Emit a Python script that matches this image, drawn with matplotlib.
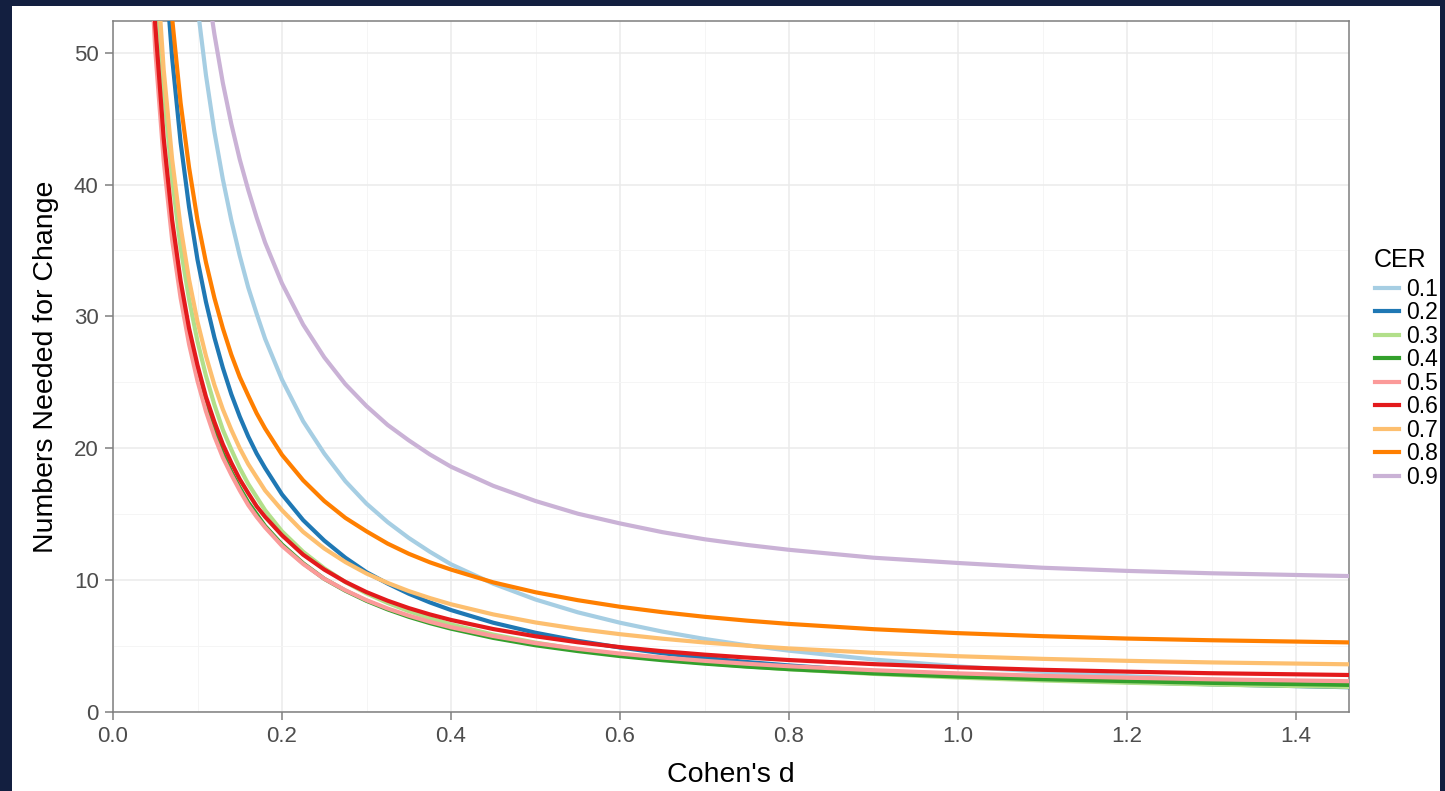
import matplotlib.pyplot as plt
from matplotlib.patches import Rectangle
from matplotlib.lines import Line2D
import numpy as np

plt.rcParams['font.family'] = ['Liberation Sans', 'DejaVu Sans']

# Cohen's d values where the curves were read
d = [0.04, 0.05, 0.06, 0.07, 0.08, 0.09, 0.10, 0.11, 0.12, 0.13, 0.14, 0.15, 0.16,
     0.17, 0.18, 0.20, 0.225, 0.25, 0.275, 0.30, 0.325, 0.35, 0.375, 0.40, 0.45,
     0.50, 0.55, 0.60, 0.65, 0.70, 0.75, 0.80, 0.90, 1.00, 1.10, 1.20, 1.30, 1.47]

# numbers needed for change, one list per CER
nnt_01 = [138.9, 110.4, 91.4, 77.9, 67.7, 59.8, 53.5, 48.3, 44.0, 40.4, 37.3, 34.6, 32.2,
          30.2, 28.3, 25.2, 22.05, 19.6, 17.5, 15.8, 14.4, 13.2, 12.15, 11.2, 9.73,
          8.53, 7.56, 6.77, 6.10, 5.54, 5.06, 4.65, 3.98, 3.46, 3.05, 2.72, 2.45, 2.11]
nnt_02 = [87.8, 70.0, 58.1, 49.6, 43.2, 38.3, 34.3, 31.1, 28.4, 26.1, 24.1, 22.4, 20.9,
          19.6, 18.5, 16.5, 14.55, 13.0, 11.7, 10.6, 9.74, 8.97, 8.31, 7.73, 6.77,
          6.01, 5.40, 4.89, 4.46, 4.10, 3.79, 3.53, 3.09, 2.76, 2.49, 2.27, 2.10, 1.87]
nnt_03 = [71.2, 56.8, 47.2, 40.4, 35.2, 31.3, 28.1, 25.5, 23.3, 21.4, 19.9, 18.5, 17.3,
          16.3, 15.3, 13.7, 12.15, 10.9, 9.85, 8.99, 8.27, 7.65, 7.11, 6.64, 5.87,
          5.26, 4.76, 4.35, 4.00, 3.71, 3.46, 3.24, 2.89, 2.61, 2.39, 2.22, 2.08, 1.89]
nnt_04 = [64.4, 51.5, 42.8, 36.7, 32.1, 28.5, 25.6, 23.3, 21.3, 19.6, 18.2, 17.0, 15.9,
          15.0, 14.1, 12.7, 11.28, 10.1, 9.20, 8.43, 7.78, 7.22, 6.74, 6.32, 5.62,
          5.06, 4.62, 4.24, 3.93, 3.67, 3.44, 3.25, 2.93, 2.69, 2.49, 2.34, 2.21, 2.05]
nnt_05 = [62.7, 50.2, 41.8, 35.8, 31.4, 27.9, 25.1, 22.8, 20.9, 19.3, 18.0, 16.8, 15.7,
          14.8, 14.0, 12.6, 11.23, 10.1, 9.23, 8.48, 7.85, 7.31, 6.84, 6.43, 5.76,
          5.22, 4.79, 4.43, 4.13, 3.88, 3.66, 3.47, 3.17, 2.93, 2.74, 2.60, 2.48, 2.33]
nnt_06 = [65.1, 52.1, 43.5, 37.3, 32.7, 29.1, 26.3, 23.9, 22.0, 20.3, 18.9, 17.65, 16.6,
          15.6, 14.8, 13.4, 11.93, 10.8, 9.87, 9.09, 8.44, 7.88, 7.40, 6.98, 6.29,
          5.74, 5.29, 4.92, 4.61, 4.35, 4.13, 3.94, 3.63, 3.39, 3.20, 3.06, 2.94, 2.80]
nnt_07 = [72.7, 58.3, 48.7, 41.9, 36.8, 32.8, 29.6, 27.0, 24.8, 22.95, 21.4, 20.0, 18.8,
          17.8, 16.8, 15.3, 13.66, 12.4, 11.37, 10.5, 9.79, 9.17, 8.64, 8.17, 7.40,
          6.79, 6.30, 5.90, 5.56, 5.27, 5.03, 4.82, 4.49, 4.23, 4.03, 3.88, 3.76, 3.61]
nnt_08 = [90.8, 73.0, 61.1, 52.6, 46.2, 41.3, 37.3, 34.1, 31.4, 29.1, 27.1, 25.4, 24.0,
          22.65, 21.5, 19.5, 17.57, 16.0, 14.72, 13.7, 12.77, 12.0, 11.35, 10.8, 9.83,
          9.08, 8.48, 7.98, 7.57, 7.22, 6.93, 6.68, 6.28, 5.98, 5.75, 5.57, 5.44, 5.27]
nnt_09 = [146.2, 117.7, 98.7, 85.2, 75.0, 67.1, 60.8, 55.7, 51.4, 47.7, 44.6, 41.9, 39.6,
          37.5, 35.6, 32.5, 29.38, 26.9, 24.86, 23.2, 21.77, 20.6, 19.53, 18.6, 17.15,
          16.0, 15.04, 14.3, 13.64, 13.1, 12.67, 12.3, 11.70, 11.3, 10.94, 10.7, 10.52, 10.3]

cer_labels = ["0.1", "0.2", "0.3", "0.4", "0.5", "0.6", "0.7", "0.8", "0.9"]
series = [nnt_01, nnt_02, nnt_03, nnt_04, nnt_05, nnt_06, nnt_07, nnt_08, nnt_09]
colors = ["#A6CEE3", "#1F78B4", "#B2DF8A", "#33A02C", "#FB9A99",
          "#E31A1C", "#FDBF6F", "#FF7F00", "#CAB2D6"]

fig = plt.figure(figsize=(14.45, 7.91), dpi=100)
fig.patch.set_facecolor("#131f40")
fig.patches.append(Rectangle((12 / 1445, 0), 1428 / 1445, 785 / 791,
                             transform=fig.transFigure, facecolor="white",
                             edgecolor="none", zorder=-10))

ax = fig.add_axes([113 / 1445, 1 - 712 / 791, 1236 / 1445, 691 / 791])
ax.set_zorder(2)
for lab, y, c in zip(cer_labels, series, colors):
    ax.plot(d, y, color=c, lw=3.0, label=lab, solid_joinstyle="round", zorder=3)

ax.set_xlim(0, 1.4627)
ax.set_ylim(0, 52.4)
ax.set_xticks(np.arange(0, 1.41, 0.2))
ax.set_xticks(np.arange(0.1, 1.41, 0.2), minor=True)
ax.set_yticks(np.arange(0, 51, 10))
ax.set_yticks(np.arange(5, 51, 10), minor=True)
ax.grid(which="major", color="#ebebeb", lw=1.1, zorder=0)
ax.grid(which="minor", color="#f4f4f4", lw=0.6, zorder=0)
ax.set_axisbelow(True)
for s in ax.spines.values():
    s.set_color("#7f7f7f")
    s.set_linewidth(1.1)
ax.tick_params(which="major", direction="out", length=5.8, width=1.1, color="#7f7f7f",
               labelcolor="#4d4d4d", labelsize=16, pad=4.5)
ax.tick_params(which="minor", length=0)

ax.set_xlabel("Cohen's d", fontsize=20.5, color="black", labelpad=10.5)
ax.set_ylabel("Numbers Needed for Change", fontsize=20.5, color="black", labelpad=10.5)

fig.text(1374 / 1445, 1 - 260 / 791, "CER", fontsize=18, va="center", ha="left")
handles = [Line2D([], [], color=c, lw=3.0) for c in colors]
leg = fig.legend(handles, cer_labels, loc="upper left",
                 bbox_to_anchor=(1375 / 1445, 1 - 278 / 791), frameon=False,
                 fontsize=16.5, handlelength=1.05, handletextpad=0.3,
                 labelspacing=0.02, borderaxespad=0, borderpad=0)

plt.savefig("out.png", dpi=100, facecolor=fig.get_facecolor())
